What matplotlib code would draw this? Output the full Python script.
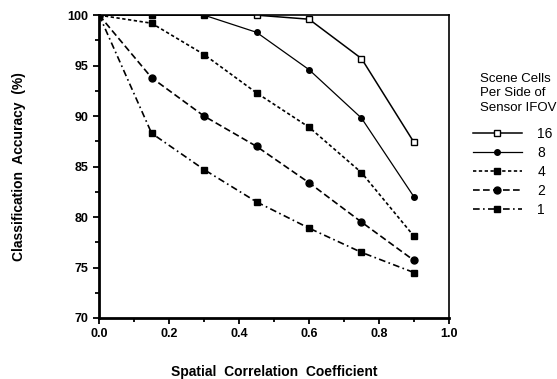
import matplotlib
matplotlib.use("Agg")
import matplotlib.pyplot as plt
from matplotlib.ticker import MultipleLocator

plt.rcParams['font.family'] = ['Liberation Sans', 'DejaVu Sans']

# spatial correlation coefficient
x = [0.0, 0.15, 0.30, 0.45, 0.60, 0.75, 0.90]

# classification accuracy (%) per number of scene cells per side of IFOV
acc_16 = [100, 100, 100, 100, 99.6, 95.7, 87.4]
acc_8 = [100, 100, 100, 98.3, 94.6, 89.8, 82.0]
acc_4 = [100, 99.2, 96.1, 92.3, 88.9, 84.4, 78.1]
acc_2 = [100, 93.8, 90.0, 87.0, 83.4, 79.5, 75.7]
acc_1 = [100, 88.3, 84.7, 81.5, 78.9, 76.5, 74.5]

labels = ['16', '8', '4', '2', '1']

fig = plt.figure(figsize=(5.57, 3.79), dpi=100)
ax = fig.add_axes([0.178, 0.161, 0.628, 0.799])

ax.plot(x, acc_16, color='black', lw=1.1, ls='-', marker='s', ms=4.5,
        mfc='white', mew=1.0, label=labels[0])
ax.plot(x, acc_8, color='black', lw=0.9, ls='-', marker='o', ms=4,
        label=labels[1])
ax.plot(x, acc_4, color='black', lw=1.2, ls=(0, (2, 1.5)), marker='s', ms=5,
        label=labels[2])
ax.plot(x, acc_2, color='black', lw=1.2, ls=(0, (4, 2)), marker='o', ms=5,
        label=labels[3])
ax.plot(x, acc_1, color='black', lw=1.2, ls=(0, (4, 2, 1, 2)), marker='s', ms=5,
        label=labels[4])

ax.set_xlim(0, 1.0)
ax.set_ylim(70, 100)
ax.xaxis.set_major_locator(MultipleLocator(0.2))
ax.xaxis.set_minor_locator(MultipleLocator(0.1))
ax.yaxis.set_major_locator(MultipleLocator(5))
ax.yaxis.set_minor_locator(MultipleLocator(2.5))
ax.set_xticklabels([f'{v:.1f}' for v in ax.get_xticks()])

ax.tick_params(which='both', direction='out', top=False, right=False,
               width=1.3, labelsize=9)
ax.tick_params(which='major', length=4)
ax.tick_params(which='minor', length=3)
for lab in ax.get_xticklabels() + ax.get_yticklabels():
    lab.set_fontweight('bold')

ax.spines['left'].set_linewidth(2.0)
ax.spines['bottom'].set_linewidth(2.0)
ax.spines['top'].set_linewidth(1.2)
ax.spines['right'].set_linewidth(1.2)

ax.set_xlabel('Spatial  Correlation  Coefficient', fontsize=10,
              fontweight='bold', labelpad=18)
ax.set_ylabel('Classification  Accuracy  (%)', fontsize=10,
              fontweight='bold', labelpad=30)

# legend title sits a bit to the right of the handles, as in the original
fig.text(0.862, 0.808, 'Scene Cells\nPer Side of\nSensor IFOV', fontsize=9.5,
         ha='left', va='top', linespacing=1.3)
ax.legend(loc='upper left', bbox_to_anchor=(0.849, 0.665),
          bbox_transform=fig.transFigure, frameon=False,
          fontsize=10, handlelength=3.5, handletextpad=1.15,
          labelspacing=0.36, borderaxespad=0, borderpad=0)

fig.savefig('out.png', dpi=100)
